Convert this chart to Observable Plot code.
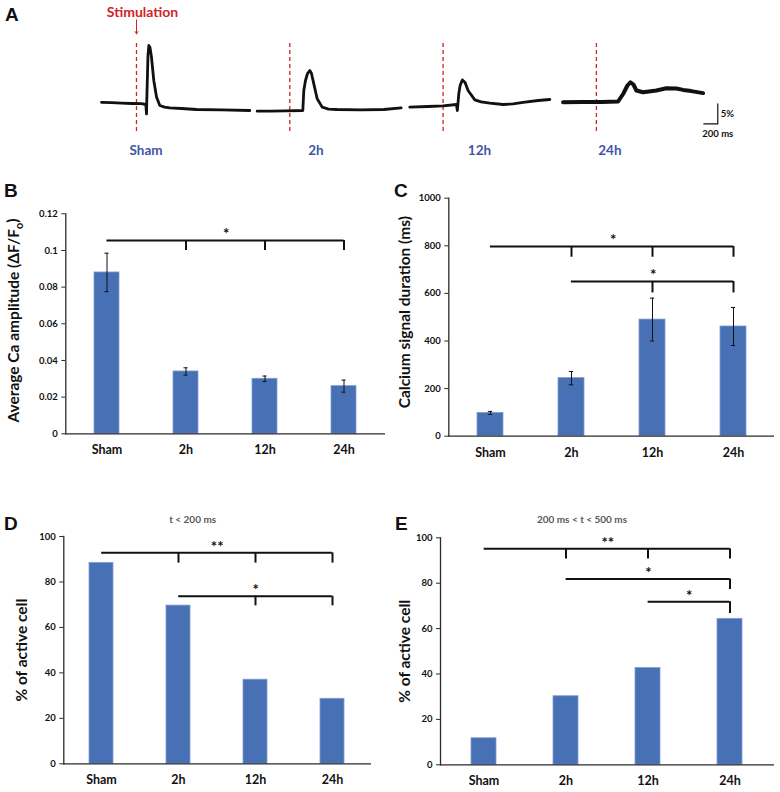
<!DOCTYPE html>
<html><head><meta charset="utf-8">
<script src="https://cdn.jsdelivr.net/npm/d3@7"></script>
<script src="https://cdn.jsdelivr.net/npm/@observablehq/plot@0.6"></script>
<style>
body{margin:0;background:#fff;}
#fig{position:relative;width:780px;height:792px;overflow:hidden;font-family:Lato,"Open Sans",sans-serif;}
#fig svg{position:absolute;}
.letter{position:absolute;font-family:"Liberation Sans",Arial,sans-serif;font-weight:bold;font-size:19px;line-height:19px;color:#111;}
</style></head><body><div id="fig"></div>
<script>
// ---------- data ----------
const groups = ["Sham", "2h", "12h", "24h"];

// Panel A example traces: [time after stimulation (ms), ΔF/F (%)]
const traceSham = [[-500,3.3],[-357,3.2],[-214,3.1],[-71,3.0],[71,2.95],[133,2.75],[143,0.4],[147,3.75],[164,15],[176,17.5],[193,17],[214,14.6],[247,8.75],[286,4.6],[333,2.5],[400,2.1],[476,1.9],[643,1.75],[857,1.5],[1214,1.4],[1619,1.25]];
const trace2h = [[-466,1.08],[-276,1.1],[-61,1.18],[186,1.25],[200,6.25],[224,8.75],[253,10.5],[286,11.25],[310,10.5],[343,7.9],[391,4.2],[463,2.1],[553,1.6],[677,1.5],[1010,1.4],[1343,1.5],[1591,1.9]];
const trace12h = [[-476,2.08],[-214,2.25],[0,2.4],[190,2.75],[204,1.25],[224,5.4],[243,7.5],[276,8.9],[314,8.25],[357,6.25],[453,3.9],[543,3.4],[667,3.1],[857,2.75],[1000,2.9],[1143,3.3],[1357,3.75],[1524,4.0]];
const trace24h = [[-476,3.3],[-214,3.4],[71,3.4],[310,3.5],[386,5.5],[443,7.5],[486,8.3],[529,7.75],[571,6.25],[667,5.8],[857,6.25],[1000,6.8],[1143,6.75],[1239,6.4],[1357,6.1],[1524,5.6]];
const scaleBarMs = 200;
const scaleBarPct = 5;

// Panel B: average Ca amplitude (ΔF/Fo), mean and error
const amplitude = [0.088, 0.034, 0.030, 0.026];
const amplitudeErr = [0.0105, 0.002, 0.0015, 0.0033];
const amplitudeTicks = [0, 0.02, 0.04, 0.06, 0.08, 0.1, 0.12];

// Panel C: calcium signal duration (ms)
const duration = [98, 244, 490, 461];
const durationErr = [6, 28, 90, 80];
const durationTicks = [0, 200, 400, 600, 800, 1000];

// Panel D / E: % of active cells
const fastCells = [88.4, 69.6, 37.0, 28.6];
const midCells = [11.7, 30.2, 42.6, 64.3];
const percentTicks = [0, 20, 40, 60, 80, 100];

// significance brackets
const amplitudeSig = [{from: "Sham", to: ["2h", "12h", "24h"], y: 0.1054, y0: 0.1, label: "*"}];
const durationSig = [
  {from: "Sham", to: ["2h", "12h", "24h"], y: 797, y0: 752, label: "*"},
  {from: "2h", to: ["12h", "24h"], y: 650, y0: 602, label: "*"}
];
const fastSig = [
  {from: "Sham", to: ["2h", "12h", "24h"], y: 92.8, y0: 88.3, label: "**"},
  {from: "2h", to: ["12h", "24h"], y: 73.7, y0: 69.5, label: "*"}
];
const midSig = [
  {from: "Sham", to: ["2h", "12h", "24h"], y: 95.2, y0: 90.7, label: "**"},
  {from: "2h", to: ["24h"], y: 81.9, y0: 77.2, label: "*"},
  {from: "12h", to: ["24h"], y: 71.8, y0: 66.7, label: "*"}
];

// ---------- styles ----------
const BLUE = "#4870b4";
const RED = "#d1232a";
const LBLUE = "#3f55a5";
const AXIS = "#2b2b2b";
const FONT = "Lato, 'Open Sans', sans-serif";
const fig = document.getElementById("fig");

function place(svg, left, top) {
  svg.style.left = left + "px";
  svg.style.top = top + "px";
  fig.appendChild(svg);
  return svg;
}
function letter(ch, left, top) {
  const d = document.createElement("div");
  d.className = "letter";
  d.textContent = ch;
  d.style.left = left + "px";
  d.style.top = top + "px";
  fig.appendChild(d);
}

// ---------- Panel A ----------
{
  const traces = [traceSham, trace2h, trace12h, trace24h];
  const stepMs = 2190;            // horizontal spacing between recordings
  const pxPerMs = 0.07, pxPerPct = 4;
  const stimPx = 136, basePx = 115, H = 170, W = 780;
  const rows = traces.flatMap((tr, i) => tr.map(([t, v]) => ({group: groups[i], t: t + i * stepMs, v})));
  const labelT = [136, 374, 520, 193];
  const barT = 8304, barV = -2.075;
  const bar = [[barT - scaleBarMs, barV], [barT, barV], [barT, barV + scaleBarPct]];
  const svgA = Plot.plot({
    width: W, height: H, margin: 0,
    style: {fontFamily: FONT, background: "transparent", overflow: "visible"},
    x: {domain: [-stimPx / pxPerMs, (W - stimPx) / pxPerMs], axis: null},
    y: {domain: [(basePx - H) / pxPerPct, basePx / pxPerPct], axis: null},
    marks: [
      Plot.ruleX(groups, {x: (d, i) => i * stepMs, y1: -4, y2: 18, stroke: RED, strokeWidth: 1.3, strokeDasharray: "4,3"}),
      Plot.line(rows.filter(d => d.group !== "24h"), {x: "t", y: "v", z: "group", stroke: "#111", strokeWidth: 2.8, strokeLinejoin: "round"}),
      Plot.line(rows.filter(d => d.group === "24h"), {x: "t", y: "v", stroke: "#111", strokeWidth: 4, strokeLinejoin: "round"}),
      Plot.text(["Stimulation"], {x: () => 0, y: () => 25.8, dx: 6, text: d => d, fill: RED, fontSize: 14, fontWeight: "bold"}),
      Plot.arrow([0], {x1: () => 0, x2: () => 0, y1: () => 23.9, y2: () => 20.4, stroke: RED, strokeWidth: 1, headLength: 4}),
      Plot.line(bar, {x: d => d[0], y: d => d[1], stroke: "#111", strokeWidth: 1.2}),
      Plot.text([scaleBarPct + "%"], {x: () => barT, y: () => barV + scaleBarPct / 2, dx: 3, text: d => d, textAnchor: "start", fontSize: 9.5, fontWeight: "bold", fill: "#111"}),
      Plot.text([scaleBarMs + " ms"], {x: () => barT, y: () => barV, dy: 10, text: d => d, fontSize: 9.5, fontWeight: "bold", fill: "#111"}),
      Plot.text(groups, {x: (d, i) => i * stepMs + labelT[i], y: () => -8.7, text: d => d, fill: LBLUE, fontSize: 13.5, fontWeight: "bold"})
    ]
  });
  place(svgA, 0, 0);
}

// ---------- bar panels ----------
function barPanel(o) {
  const n = groups.length;
  const step = (o.width - o.ml - o.mr) / (n - o.pi + 2 * o.po);
  const bw = step * (1 - o.pi);
  const data = groups.map((g, i) => ({g, v: o.values[i], e: o.errors ? o.errors[i] : 0}));
  const tickRows = o.sig.flatMap(s => s.to.map(t => ({g: t, y: s.y, y0: s.y0})));
  const marks = [
    Plot.barY(data, {x: "g", y: "v", fill: BLUE, stroke: "#7f9dd3", strokeWidth: 0.8})
  ];
  if (o.errors) {
    marks.push(
      Plot.ruleX(data, {x: "g", y1: d => d.v - d.e, y2: d => d.v + d.e, stroke: "#111", strokeWidth: 1}),
      Plot.tickY(data, {x: "g", y: d => d.v + d.e, stroke: "#111", strokeWidth: 1, insetLeft: bw / 2 - 2, insetRight: bw / 2 - 2}),
      Plot.tickY(data, {x: "g", y: d => d.v - d.e, stroke: "#111", strokeWidth: 1, insetLeft: bw / 2 - 2, insetRight: bw / 2 - 2})
    );
  }
  marks.push(
    Plot.ruleY([0], {stroke: AXIS, strokeWidth: 1.3}),
    Plot.frame({anchor: "left", stroke: AXIS, strokeWidth: 1.3}),
    Plot.axisY({ticks: o.ticks, tickSize: 4, tickPadding: 4, tickFormat: d => String(d), fontSize: 9.5, fontWeight: "bold", stroke: AXIS, label: null}),
    Plot.axisX({tickSize: 0, tickPadding: o.xPad, fontSize: 12.5, fontWeight: "bold", label: null}),
    Plot.ruleY(o.sig, {x1: "from", x2: d => d.to[d.to.length - 1], y: "y", insetLeft: bw / 2, insetRight: bw / 2, stroke: "#111", strokeWidth: 2}),
    Plot.ruleX(tickRows, {x: "g", y1: "y", y2: "y0", stroke: "#111", strokeWidth: 2})
  );
  o.sig.forEach(s => {
    const span = groups.indexOf(s.to[s.to.length - 1]) - groups.indexOf(s.from);
    marks.push(Plot.text([s], {x: "from", y: "y", text: "label", dx: span * step / 2, dy: -6, fontSize: 15, fontWeight: "bold", fill: "#111"}));
  });
  marks.push(Plot.text([o.ylabel], {frameAnchor: "left", text: d => d, rotate: -90, textAnchor: "middle", lineAnchor: "middle", dx: o.labelDx, dy: o.labelDy, fontSize: 15.5, fontWeight: "bold", fill: "#111"}));
  if (o.subtitle) {
    marks.push(Plot.text([o.subtitle], {frameAnchor: "top", text: d => d, textAnchor: "middle", lineAnchor: "middle", dx: o.subDx, dy: o.subDy, fontSize: 10, fontWeight: "bold", fill: "#595959"}));
  }
  const svg = Plot.plot({
    width: o.width, height: o.height,
    marginLeft: o.ml, marginRight: o.mr, marginTop: o.mt, marginBottom: o.mb,
    style: {fontFamily: FONT, background: "transparent", overflow: "visible", color: "#111"},
    x: {type: "band", domain: groups, paddingInner: o.pi, paddingOuter: o.po, align: 0.5},
    y: {domain: o.domain},
    marks
  });
  return svg;
}

// Panel B
{
  const ylabel = "Average Ca amplitude (ΔF/Fo)";
  const svg = barPanel({
    values: amplitude, errors: amplitudeErr, ticks: amplitudeTicks, domain: [0, 0.12], sig: amplitudeSig,
    ylabel, width: 390, height: 300, ml: 65.3, mr: 5, mt: 43.3, mb: 36.7, pi: 0.686, po: 0.355, xPad: 11,
    labelDx: -51.3, labelDy: -3.3
  });
  d3.select(svg).selectAll("text").filter(function () { return this.textContent === ylabel; }).each(function () {
    const t = d3.select(this);
    t.text(null);
    t.append("tspan").text("Average Ca amplitude (ΔF/F");
    t.append("tspan").attr("dy", "0.35em").attr("font-size", "70%").text("o");
    t.append("tspan").attr("dy", "-0.35em").text(")");
  });
  place(svg, 0, 170);
}
// Panel C
place(barPanel({
  values: duration, errors: durationErr, ticks: durationTicks, domain: [0, 1000], sig: durationSig,
  ylabel: "Calcium signal duration (ms)", width: 390, height: 300, ml: 58.3, mr: 6, mt: 27.7, mb: 34.3, pi: 0.685, po: 0.335, xPad: 12,
  labelDx: -43.3, labelDy: -5
}), 390, 170);
// Panel D
place(barPanel({
  values: fastCells, errors: null, ticks: percentTicks, domain: [0, 100], sig: fastSig,
  ylabel: "% of active cell", width: 390, height: 322, ml: 63.3, mr: 19, mt: 66, mb: 28.7, pi: 0.684, po: 0.337, xPad: 11,
  labelDx: -41.3, labelDy: 0, subtitle: "t < 200 ms", subDx: -25, subDy: -17
}), 0, 470);
// Panel E
place(barPanel({
  values: midCells, errors: null, ticks: percentTicks, domain: [0, 100], sig: midSig,
  ylabel: "% of active cell", width: 390, height: 322, ml: 50, mr: 6, mt: 67.3, mb: 27.7, pi: 0.694, po: 0.37, xPad: 11.5,
  labelDx: -35, labelDy: 0, subtitle: "200 ms < t < 500 ms", subDx: -25.5, subDy: -18.3
}), 390, 470);

letter("A", 5, 4.5);
letter("B", 4, 181);
letter("C", 394, 180.5);
letter("D", 4, 514);
letter("E", 395, 514);
</script>
</body></html>
